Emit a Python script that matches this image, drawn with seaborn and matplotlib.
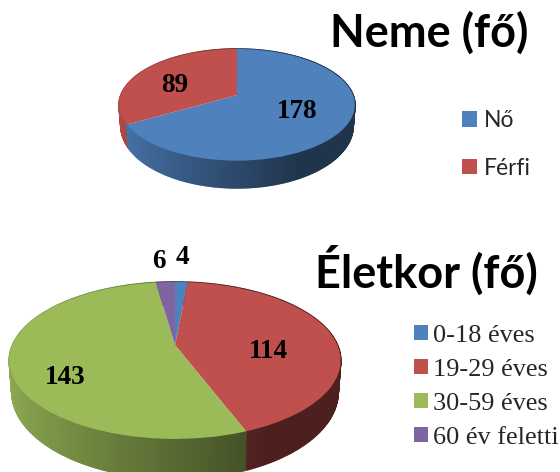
import numpy as np
import matplotlib
matplotlib.use("Agg")
import matplotlib.pyplot as plt
from matplotlib.transforms import Transform
from matplotlib.collections import PolyCollection
import seaborn as sns

sns.set_theme(style="white")

GENDER_TITLE = "Neme (fő)"
GENDER_LABELS = ["Nő", "Férfi"]
GENDER_VALUES = [178, 89]
GENDER_COLORS = ["#4F81BD", "#C0504D"]

AGE_TITLE = "Életkor (fő)"
AGE_LABELS = ["0-18 éves", "19-29 éves", "30-59 éves", "60 év feletti"]
AGE_VALUES = [4, 114, 143, 6]
AGE_COLORS = ["#4F81BD", "#C0504D", "#9BBB59", "#8064A2"]


class Tilt(Transform):
    """Perspective view of the unit pie disc, in pixel-like data units."""
    input_dims = output_dims = 2

    def __init__(self, cx, cy, a, b, k, sx=1.0, sy=1.0, drop=0.0):
        super().__init__()
        self.p = (cx, cy, a, b, k, sx, sy, drop)

    def transform_non_affine(self, xy):
        cx, cy, a, b, k, sx, sy, drop = self.p
        xy = np.asarray(xy, float)
        w = 1 + k * xy[:, 1]
        return np.column_stack([cx + sx * a * xy[:, 0] / w,
                                cy + drop - sy * b * xy[:, 1] / w])


fig = plt.figure(figsize=(5.6, 4.72), dpi=100)
ax = fig.add_axes([0, 0, 1, 1])


def tilted_pie(values, colors, geom, sy, drop):
    wedges, _ = ax.pie(values, colors=colors, startangle=90, counterclock=False,
                       wedgeprops={"linewidth": 0})
    top = Tilt(*geom)
    low = Tilt(*geom, sx=0.985, sy=sy, drop=drop)
    polys, fills = [], []
    for w, c in zip(wedges, colors):
        w.set_transform(top + ax.transData)
        w.set_zorder(3)
        base = np.array(matplotlib.colors.to_rgb(c))
        th = np.radians(np.arange(w.theta1, w.theta2 + 1.0, 1.0))
        th[-1] = np.radians(w.theta2)
        for t0, t1 in zip(th[:-1], th[1:]):
            pts = np.array([[np.cos(t0), np.sin(t0)], [np.cos(t1), np.sin(t1)]])
            ring_top = top.transform_non_affine(pts)
            ring_low = low.transform_non_affine(pts)
            polys.append(np.vstack([ring_top, ring_low[::-1]]))
            shade = np.interp(np.cos(t0), [-1, 0, 0.45, 1], [0.92, 0.56, 0.40, 0.40])
            fills.append((base * shade, np.sin(t0)))
    order = np.argsort([-f[1] for f in fills])
    ax.add_collection(PolyCollection([polys[i] for i in order],
                                     facecolors=[fills[i][0] for i in order],
                                     edgecolors=[fills[i][0] for i in order],
                                     linewidths=1.2, zorder=2))
    return wedges


gender_wedges = tilted_pie(GENDER_VALUES, GENDER_COLORS, (237, 95, 116, 54.1, 0.176), 1.11, 20)
age_wedges = tilted_pie(AGE_VALUES, AGE_COLORS, (175, 345, 162.4, 75.4, 0.197), 1.11, 29.5)

ax.set_aspect("auto")
ax.set(xlim=(0, 560), ylim=(472, 0), xticks=[], yticks=[])
ax.set_frame_on(False)

num = dict(family="Liberation Serif", weight="bold", fontsize=19.5, color="black",
           ha="center", va="center", zorder=5)
for pos, v in zip([(297, 111), (175, 86)], GENDER_VALUES):
    ax.text(*pos, str(v), **num)
for pos, v in zip([(182, 258), (268, 351), (65, 377), (159, 262)], AGE_VALUES):
    ax.text(*pos, str(v), **num)

ttl = dict(family="Lato", weight="bold", fontsize=32.5, color="black", ha="left", va="center", zorder=5)
ax.text(330, 33, GENDER_TITLE, **ttl)
ax.text(315, 271, AGE_TITLE, **ttl)

leg1 = ax.legend(gender_wedges, GENDER_LABELS, loc="upper left",
                 bbox_to_anchor=(462, 110), bbox_transform=ax.transData,
                 frameon=False, borderpad=0, borderaxespad=0, handlelength=0.65,
                 handleheight=0.65, handletextpad=0.3, labelspacing=1.17,
                 prop={"family": "Lato", "size": 16.5})
ax.add_artist(leg1)
ax.legend(age_wedges, AGE_LABELS, loc="upper left",
          bbox_to_anchor=(414, 325), bbox_transform=ax.transData,
          frameon=False, borderpad=0, borderaxespad=0, handlelength=0.53,
          handleheight=0.53, handletextpad=0.19, labelspacing=0.45,
          prop={"family": "Liberation Serif", "size": 18.9})

fig.savefig("out.png", dpi=100)
